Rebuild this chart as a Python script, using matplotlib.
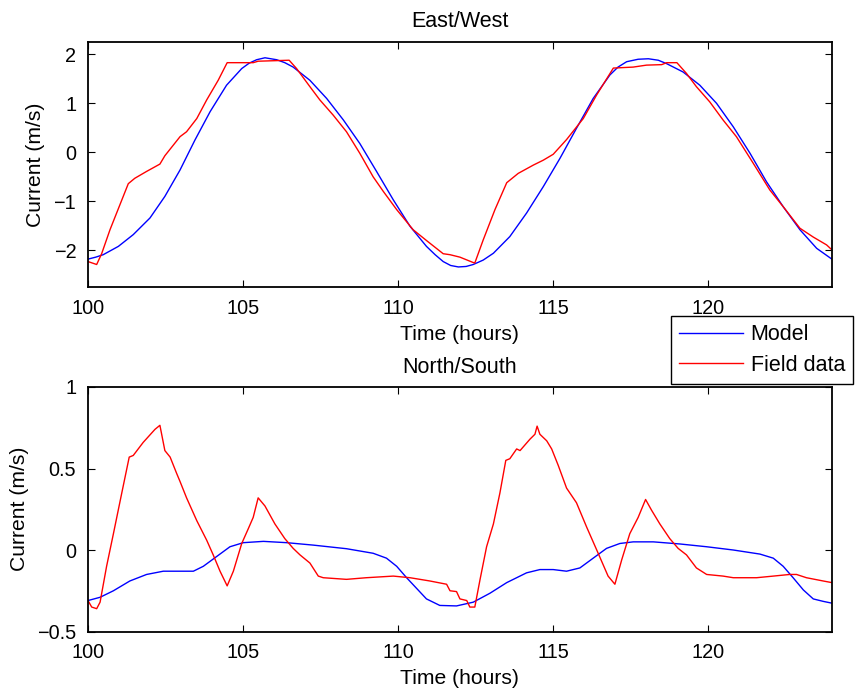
import numpy as np
import matplotlib.pyplot as plt

plt.rcParams['font.family'] = ['Liberation Sans', 'DejaVu Sans']

# ---- East/West (top panel) ----
ew_model_t = [100.0, 100.25, 100.49, 100.98, 101.46, 102.0, 102.48, 102.97, 103.45, 103.94,
              104.47, 104.96, 105.2, 105.44, 105.71, 106.09, 106.35, 106.62, 107.16, 107.7,
              108.24, 108.77, 109.31, 109.85, 110.39, 110.92, 111.2, 111.46, 111.7, 111.95,
              112.2, 112.43, 112.75, 113.08, 113.61, 114.15, 114.69, 115.23, 115.76, 116.3,
              116.84, 117.1, 117.38, 117.75, 118.08, 118.4, 118.67, 119.2, 119.74, 120.28,
              120.82, 121.36, 121.89, 122.43, 122.97, 123.51, 124.0]
ew_model_v = [-2.18, -2.14, -2.09, -1.92, -1.68, -1.34, -0.90, -0.36, 0.25, 0.83,
              1.37, 1.71, 1.82, 1.89, 1.93, 1.89, 1.83, 1.74, 1.47, 1.10,
              0.66, 0.18, -0.39, -0.97, -1.51, -1.92, -2.09, -2.23, -2.31, -2.34,
              -2.33, -2.29, -2.20, -2.06, -1.72, -1.24, -0.70, -0.12, 0.49, 1.10,
              1.58, 1.74, 1.85, 1.90, 1.91, 1.88, 1.81, 1.64, 1.37, 1.00,
              0.52, -0.02, -0.60, -1.11, -1.58, -1.96, -2.18]

ew_field_t = [100.0, 100.28, 100.44, 100.71, 101.03, 101.3, 101.51, 101.89, 102.32, 102.48,
              102.97, 103.18, 103.51, 103.83, 104.2, 104.49, 105.33, 105.49, 106.49, 106.73,
              107.16, 107.48, 107.91, 108.34, 108.77, 109.2, 109.53, 109.96, 110.49, 110.92,
              111.46, 111.68, 112.0, 112.43, 112.48, 112.75, 113.13, 113.51, 113.88, 114.37,
              114.69, 115.01, 115.44, 115.98, 116.41, 116.95, 117.59, 118.02, 118.51, 118.67,
              119.0, 119.31, 119.63, 120.06, 120.49, 120.92, 121.46, 122.0, 122.43, 122.97,
              123.4, 123.83, 124.0]
ew_field_v = [-2.23, -2.29, -2.07, -1.58, -1.07, -0.64, -0.53, -0.39, -0.24, -0.07,
              0.32, 0.42, 0.69, 1.07, 1.47, 1.83, 1.83, 1.86, 1.88, 1.71,
              1.34, 1.07, 0.76, 0.42, -0.02, -0.50, -0.80, -1.17, -1.58, -1.80,
              -2.07, -2.09, -2.14, -2.25, -2.26, -1.79, -1.17, -0.62, -0.43, -0.26,
              -0.16, -0.04, 0.26, 0.69, 1.17, 1.72, 1.74, 1.78, 1.79, 1.83,
              1.83, 1.61, 1.34, 1.03, 0.66, 0.32, -0.22, -0.77, -1.11, -1.55,
              -1.73, -1.89, -1.99]

# ---- North/South (bottom panel) ----
ns_model_t = [100.0, 100.39, 100.82, 101.35, 101.89, 102.43, 102.97, 103.4, 103.72, 104.15,
              104.58, 105.01, 105.66, 106.41, 107.27, 108.34, 109.2, 109.63, 109.96, 110.28,
              110.6, 110.92, 111.35, 111.89, 112.43, 112.97, 113.51, 114.15, 114.58, 115.01,
              115.44, 115.87, 116.3, 116.73, 117.16, 117.59, 118.24, 119.1, 119.96, 120.82,
              121.68, 122.11, 122.43, 122.75, 123.08, 123.4, 123.72, 124.0]
ns_model_v = [-0.31, -0.29, -0.25, -0.19, -0.15, -0.13, -0.13, -0.13, -0.10, -0.04,
              0.02, 0.045, 0.053, 0.045, 0.03, 0.008, -0.02, -0.05, -0.10, -0.17,
              -0.235, -0.30, -0.34, -0.343, -0.32, -0.265, -0.20, -0.14, -0.12, -0.12,
              -0.13, -0.11, -0.05, 0.01, 0.04, 0.05, 0.05, 0.037, 0.02, 0.0,
              -0.025, -0.05, -0.10, -0.17, -0.245, -0.30, -0.315, -0.326]

ns_field_t = [100.0, 100.12, 100.28, 100.39, 100.6, 100.82, 101.09, 101.33, 101.46, 101.78,
              102.16, 102.32, 102.48, 102.65, 102.86, 102.97, 103.18, 103.51, 103.83, 104.04,
              104.26, 104.49, 104.69, 104.96, 105.17, 105.33, 105.49, 105.71, 106.03, 106.35,
              106.62, 106.84, 107.16, 107.43, 107.59, 108.34, 108.98, 109.85, 110.39, 111.03,
              111.57, 111.68, 111.89, 112.0, 112.22, 112.32, 112.48, 112.65, 112.86, 113.08,
              113.29, 113.48, 113.61, 113.83, 113.94, 114.26, 114.42, 114.49, 114.58, 114.8,
              114.96, 115.17, 115.44, 115.76, 116.09, 116.46, 116.78, 117.0, 117.22, 117.48,
              117.75, 117.99, 118.18, 118.45, 118.77, 119.04, 119.31, 119.63, 119.96, 120.49,
              120.82, 121.57, 122.11, 122.64, 122.86, 123.18, 123.72, 124.0]
ns_field_v = [-0.31, -0.35, -0.36, -0.32, -0.10, 0.10, 0.35, 0.57, 0.58, 0.66,
              0.74, 0.765, 0.61, 0.57, 0.47, 0.42, 0.32, 0.18, 0.06, -0.03,
              -0.13, -0.22, -0.13, 0.04, 0.13, 0.20, 0.32, 0.27, 0.16, 0.07,
              0.01, -0.03, -0.08, -0.16, -0.17, -0.18, -0.17, -0.16, -0.17, -0.19,
              -0.21, -0.25, -0.255, -0.30, -0.31, -0.35, -0.35, -0.18, 0.02, 0.16,
              0.35, 0.55, 0.56, 0.62, 0.61, 0.68, 0.71, 0.76, 0.71, 0.67,
              0.62, 0.52, 0.38, 0.29, 0.14, -0.02, -0.16, -0.21, -0.06, 0.10,
              0.20, 0.31, 0.245, 0.16, 0.07, 0.01, -0.03, -0.11, -0.15, -0.16,
              -0.17, -0.17, -0.16, -0.15, -0.15, -0.17, -0.19, -0.20]

xticks = [100, 105, 110, 115, 120]

fig = plt.figure(figsize=(8.56, 6.88), dpi=100)
ax1 = fig.add_axes([0.1028, 0.5828, 0.869, 0.356])
ax2 = fig.add_axes([0.1028, 0.0821, 0.869, 0.3554])

def style(ax):
    ax.set_xlim(100, 124)
    ax.set_xticks(xticks)
    ax.tick_params(direction='in', top=True, right=True, length=5, width=0.8,
                   labelsize=14.3, pad=8.5)
    for s in ax.spines.values():
        s.set_linewidth(1.3)
    ax.set_xlabel('Time (hours)', fontsize=15.2, labelpad=5)
    ax.set_ylabel('Current (m/s)', fontsize=15.2, labelpad=6)

l1, = ax1.plot(ew_model_t, ew_model_v, color='#0000ff', lw=1.0)
l2, = ax1.plot(ew_field_t, ew_field_v, color='#ff0000', lw=1.0)
style(ax1)
ax1.set_ylim(-2.75, 2.25)
ax1.set_yticks([-2, -1, 0, 1, 2])
ax1.set_yticklabels(['\u22122', '\u22121', '0', '1', '2'])
ax1.set_title('East/West', fontsize=15.5, pad=11)

ax2.plot(ns_model_t, ns_model_v, color='#0000ff', lw=1.0)
ax2.plot(ns_field_t, ns_field_v, color='#ff0000', lw=1.0)
style(ax2)
ax2.set_ylim(-0.5, 1.0)
ax2.set_yticks([-0.5, 0, 0.5, 1])
ax2.set_yticklabels(['\u22120.5', '0', '0.5', '1'])
ax2.set_title('North/South', fontsize=15.5, pad=10)

leg = fig.legend([l1, l2], ['Model', 'Field data'], loc='upper left',
                 bbox_to_anchor=(671 / 856, 1 - 316 / 688), borderaxespad=0,
                 fontsize=15.5, fancybox=False, framealpha=1, edgecolor='black',
                 handlelength=2.95, borderpad=0.38, labelspacing=0.45,
                 handletextpad=0.37)
leg.get_frame().set_linewidth(1.0)

fig.savefig('out.png', dpi=100)
